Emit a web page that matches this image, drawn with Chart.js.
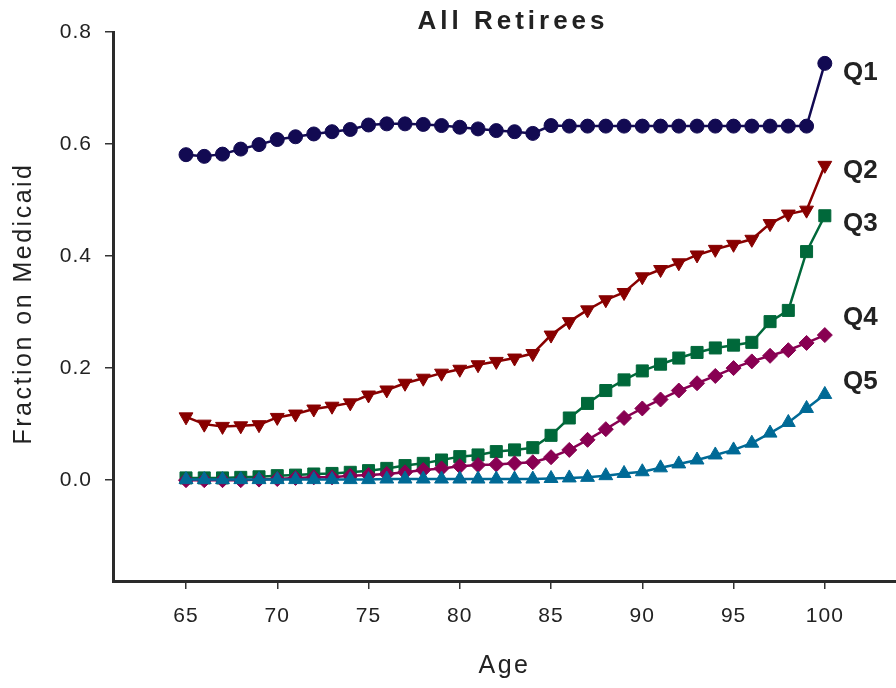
<!DOCTYPE html>
<html>
<head>
<meta charset="utf-8">
<script src="https://cdn.jsdelivr.net/npm/chart.js@4/dist/chart.umd.min.js"></script>
<style>
  html, body { margin: 0; padding: 0; background: #ffffff; }
  #wrap { width: 896px; height: 688px; }
</style>
</head>
<body>
<div id="wrap"><canvas id="chart" width="896" height="688"></canvas></div>
<script>
// Age of retirees (x values)
const ages = [65, 66, 67, 68, 69, 70, 71, 72, 73, 74, 75, 76, 77, 78, 79, 80, 81, 82,
              83, 84, 85, 86, 87, 88, 89, 90, 91, 92, 93, 94, 95, 96, 97, 98, 99, 100];

// Fraction on Medicaid by permanent-income quintile
const q1 = [0.581, 0.578, 0.582, 0.591, 0.599, 0.608, 0.613, 0.618, 0.622, 0.626, 0.634, 0.636,
            0.636, 0.635, 0.633, 0.630, 0.627, 0.624, 0.622, 0.619, 0.633, 0.632, 0.632, 0.632,
            0.632, 0.632, 0.632, 0.632, 0.632, 0.632, 0.632, 0.632, 0.632, 0.632, 0.632, 0.744];
const q2 = [0.113, 0.100, 0.096, 0.097, 0.099, 0.112, 0.118, 0.127, 0.132, 0.138, 0.152, 0.161,
            0.173, 0.182, 0.191, 0.198, 0.206, 0.212, 0.218, 0.226, 0.259, 0.283, 0.304, 0.322,
            0.335, 0.363, 0.376, 0.388, 0.402, 0.412, 0.421, 0.430, 0.458, 0.475, 0.482, 0.562];
const q3 = [0.004, 0.004, 0.004, 0.005, 0.006, 0.008, 0.009, 0.011, 0.012, 0.014, 0.017, 0.021,
            0.026, 0.030, 0.036, 0.042, 0.045, 0.051, 0.054, 0.058, 0.080, 0.111, 0.137, 0.160,
            0.179, 0.195, 0.207, 0.218, 0.228, 0.236, 0.241, 0.246, 0.283, 0.303, 0.408, 0.472];
const q4 = [0.000, 0.000, 0.000, 0.000, 0.001, 0.002, 0.004, 0.005, 0.005, 0.008, 0.009, 0.011,
            0.014, 0.018, 0.021, 0.025, 0.027, 0.028, 0.030, 0.032, 0.041, 0.054, 0.072, 0.091,
            0.111, 0.128, 0.144, 0.160, 0.173, 0.186, 0.200, 0.212, 0.222, 0.232, 0.245, 0.259];
const q5 = [0.001, 0.001, 0.001, 0.001, 0.001, 0.001, 0.001, 0.001, 0.001, 0.001, 0.001, 0.002,
            0.002, 0.002, 0.002, 0.002, 0.002, 0.002, 0.002, 0.002, 0.003, 0.004, 0.005, 0.008,
            0.012, 0.015, 0.022, 0.029, 0.036, 0.045, 0.054, 0.066, 0.084, 0.103, 0.128, 0.153];

// Tick labels
const xTicks = [65, 70, 75, 80, 85, 90, 95, 100];
const yTicks = [0.0, 0.2, 0.4, 0.6, 0.8];

// Series names, with the value at which each end label sits
const seriesNames = ['Q1', 'Q2', 'Q3', 'Q4', 'Q5'];
const labelLevels = [0.727, 0.553, 0.457, 0.289, 0.175];

const chartTitle = 'All Retirees';
const xTitle = 'Age';
const yTitle = 'Fraction on Medicaid';

const colors = ['#120a52', '#880000', '#00683a', '#880052', '#006a96'];
const INK = '#222222';
const FONT = "'Liberation Sans', Arial, Helvetica, sans-serif";

// Later quintiles are painted over earlier ones
function series(values, i, style, radius, rotation) {
  return {
    label: seriesNames[i],
    data: ages.map((a, k) => ({ x: a, y: values[k] })),
    order: seriesNames.length - i,
    borderColor: colors[i],
    backgroundColor: colors[i],
    borderWidth: 2.5,
    pointStyle: style,
    pointRadius: radius,
    pointRotation: rotation || 0,
    pointBorderWidth: 1,
    pointBorderColor: colors[i],
    pointBackgroundColor: colors[i],
    tension: 0
  };
}

// Spaced lettering for the tick labels
const tickSpacing = {
  id: 'tickSpacing',
  beforeDraw(chart) { chart.ctx.letterSpacing = '1px'; },
  afterDraw(chart) { chart.ctx.letterSpacing = '0px'; }
};

// Chart title, axis titles and the Q1..Q5 labels at the right end of each line
const annotations = {
  id: 'annotations',
  afterDraw(chart) {
    const ctx = chart.ctx;
    const xs = chart.scales.x, ys = chart.scales.y;
    const area = chart.chartArea;
    ctx.save();
    ctx.fillStyle = INK;
    ctx.textBaseline = 'middle';

    ctx.font = 'bold 26px ' + FONT;
    ctx.textAlign = 'center';
    ctx.letterSpacing = '4px';
    ctx.fillText(chartTitle, 513, 22);

    ctx.font = '25px ' + FONT;
    ctx.letterSpacing = '2.5px';
    ctx.fillText(xTitle, (area.left + area.right) / 2, 666);
    ctx.save();
    ctx.translate(24, (area.top + area.bottom) / 2);
    ctx.rotate(-Math.PI / 2);
    ctx.fillText(yTitle, 3, 0);
    ctx.restore();

    ctx.font = 'bold 26px ' + FONT;
    ctx.letterSpacing = '0px';
    ctx.textAlign = 'left';
    seriesNames.forEach((name, i) => {
      ctx.fillText(name, xs.getPixelForValue(101), ys.getPixelForValue(labelLevels[i]));
    });
    ctx.restore();
  }
};

new Chart(document.getElementById('chart'), {
  type: 'line',
  data: {
    datasets: [
      series(q1, 0, 'circle', 7),
      series(q2, 1, 'triangle', 8, 180),
      series(q3, 2, 'rect', 8.5),
      series(q4, 3, 'rectRot', 7.5),
      series(q5, 4, 'triangle', 8)
    ]
  },
  options: {
    responsive: false,
    animation: false,
    events: [],
    layout: { autoPadding: false, padding: { top: 32, left: 0, right: 0, bottom: 0 } },
    plugins: {
      legend: { display: false },
      title: { display: false },
      tooltip: { enabled: false }
    },
    scales: {
      x: {
        type: 'linear',
        min: 61,
        max: 103.9,
        afterBuildTicks(scale) { scale.ticks = xTicks.map(v => ({ value: v })); },
        afterFit(scale) { scale.height = 107; },
        grid: { drawOnChartArea: false, drawTicks: true, tickLength: 8, color: '#333333', lineWidth: 1.5 },
        border: { display: true, color: '#2a2a2a', width: 3 },
        ticks: { color: INK, padding: 15, font: { family: FONT, size: 21 }, maxRotation: 0 },
        title: { display: false }
      },
      y: {
        type: 'linear',
        min: -0.18,
        max: 0.8,
        afterBuildTicks(scale) { scale.ticks = yTicks.map(v => ({ value: v })); },
        afterFit(scale) { scale.width = 113; },
        grid: { drawOnChartArea: false, drawTicks: true, tickLength: 8, color: '#333333', lineWidth: 1.5 },
        border: { display: true, color: '#2a2a2a', width: 3 },
        ticks: { color: INK, padding: 13, font: { family: FONT, size: 21 },
                 callback: v => v.toFixed(1) },
        title: { display: false }
      }
    }
  },
  plugins: [tickSpacing, annotations]
});
</script>
</body>
</html>
